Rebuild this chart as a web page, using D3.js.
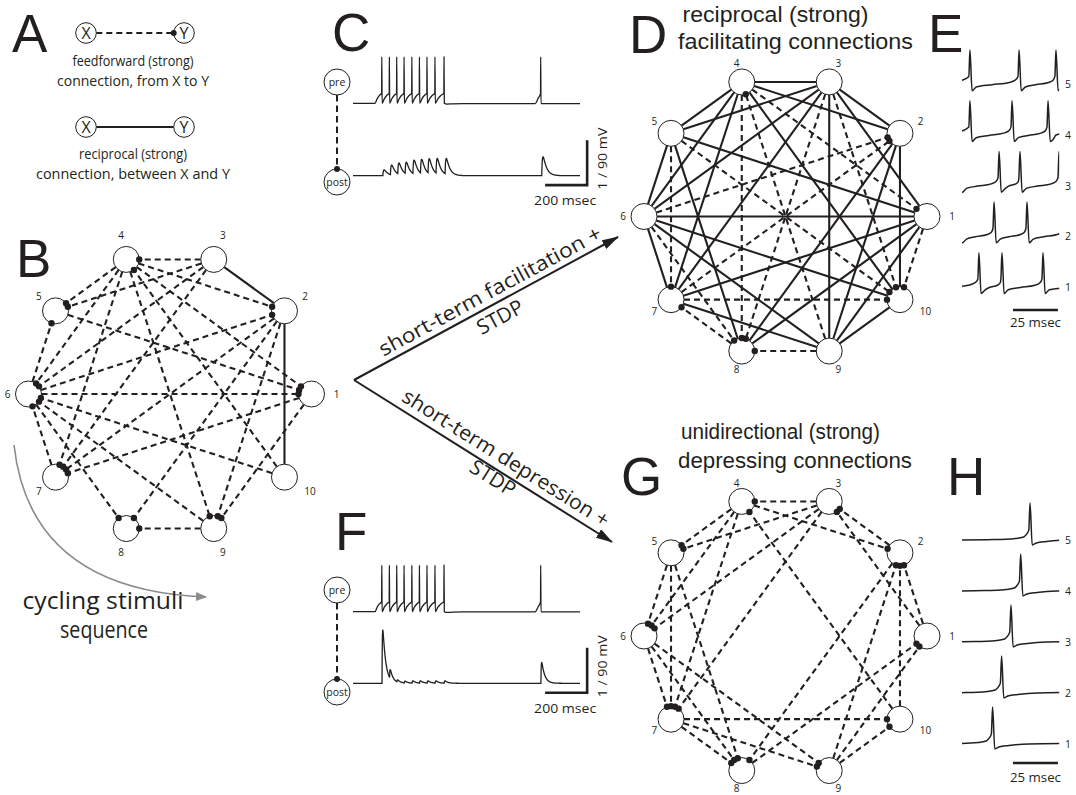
<!DOCTYPE html>
<html><head><meta charset="utf-8">
<script src="https://cdn.jsdelivr.net/npm/d3@7"></script>
<style>
html,body{margin:0;padding:0;background:#fff;}
svg{display:block;}
text{font-family:"Open Sans","Noto Sans",sans-serif;fill:#231f20;}
text.letter,text.title{font-family:"Liberation Sans",Arial,sans-serif;}
</style></head><body>
<svg id="fig" width="1076" height="795" viewBox="0 0 1076 795"></svg>
<script>
// ================= DATA =================
const nodeIds = [1,2,3,4,5,6,7,8,9,10];
const legendNodes = ["X","Y"];
const legendCaptionFF = ["feedforward (strong)","connection, from X to Y"];
const legendCaptionRec = ["reciprocal (strong)","connection, between X and Y"];

// [source, target]; dashed = feedforward (dot at target), solid = reciprocal
const edgesBSolid  = [[3,2],[2,10]];
const edgesBDashed = [[3,4],[4,2],[3,5],[4,5],[5,1],[6,5],[4,6],[4,7],[4,9],[4,1],[10,4],[3,6],[3,7],
                      [6,2],[2,7],[2,8],[2,9],[1,7],[1,9],[10,6],[9,6],[6,8],[7,6],[9,8],[6,1]];
const edgesDSolid  = [[4,3],[4,5],[5,6],[6,7],[6,1],[3,9],[3,2],[3,1],[3,5],[3,6],[3,7],[4,2],[4,6],[4,7],
                      [4,10],[5,1],[5,8],[6,10],[6,9],[7,1],[7,9],[8,1],[9,1],[9,10],[2,8],[2,9],[2,10]];
const edgesDDashed = [[5,10],[7,2],[9,4],[3,8],[5,7],[7,10],[8,7],[6,8],[9,8],[4,8],[6,2],[3,10],[4,1],[1,10]];
const edgesGSolid  = [];
const edgesGDashed = [[3,4],[10,4],[4,5],[3,5],[4,6],[3,6],[4,7],[3,7],[5,7],[2,3],[1,3],[4,2],[10,2],[9,2],
                      [1,2],[2,8],[8,1],[9,1],[7,10],[9,10],[7,9],[6,9],[6,8],[7,8],[5,8],[5,6],[6,7]];

// pre/post pair recordings (ms, mV)
const traceMs = [0, 1080];
const preSpikeMs = [137,173,208,243,280,316,352,390,433,893];
const burstOnsetMs = 105, lateOnsetMs = 867;
const epspFacilitating = [0.13,0.22,0.25,0.26,0.31,0.32,0.33,0.34,0.35,0.42];
const epspDepressing   = [1.18,0.20,0.05,0.04,0.05,0.05,0.05,0.05,0.05,0.46];
const scaleBarMs = 200, scaleBarPostMv = 1, scaleBarPreMv = 90;

// firing of neurons 5..1 (ms)
const rowLabels = [5,4,3,2,1];
const firingMs = [0, 54];
const spikesE = [[4.4,31.7,52.2],[4.4,27.8,47.8],[20.6,32.2,53.9],[17.8,36.1],[9.4,22.2,45]];
const spikesEPrev = [-50,-50,-1,-1,-20];
const spikesENext = [80,57,80,57,75];
const spikesH = [37.8,32.6,27.2,22,17];
const scaleBarFiringMs = 25;

// ================= DRAWING =================
const ink = "#231f20";
const svg = d3.select("#fig");
const defs = svg.append("defs");
function marker(id,color,len,wid){
  defs.append("marker").attr("id",id).attr("viewBox",`0 0 ${len} ${wid}`)
    .attr("refX",len-1).attr("refY",wid/2).attr("markerWidth",len).attr("markerHeight",wid)
    .attr("markerUnits","userSpaceOnUse").attr("orient","auto")
    .append("path").attr("d",`M0,0L${len},${wid/2}L0,${wid}Z`).attr("fill",color);
}
marker("arrK",ink,17,10);
marker("arrG","#8c8c8c",11,9);

function txt(str,x,y,size,o={}){
  const t=svg.append("text").attr("x",x).attr("y",y).attr("font-size",size)
    .attr("text-anchor",o.anchor||"middle").text(str);
  if(o.len) t.attr("textLength",o.len).attr("lengthAdjust","spacingAndGlyphs");
  if(o.rot!==undefined) t.attr("transform",`rotate(${o.rot},${x},${y})`);
  if(o.dy) t.attr("dy",o.dy);
  if(o.cls) t.attr("class",o.cls);
  return t;
}

// panel letters
const letters=[["A",12,52],["B",16,277],["C",332,51],["D",629,53],["E",928,52],["F",335,550],["G",621,495],["H",947,495]];
letters.forEach(([l,x,y])=>txt(l,x,y,53,{anchor:"start",cls:"letter"}));

// ---------- A : legend ----------
const legX = d3.scaleLinear().domain([0,1]).range([86,184]);
[{y:33,dashed:true,cap:legendCaptionFF,cy:[66,86],len:[121,152]},
 {y:127,dashed:false,cap:legendCaptionRec,cy:[159,179],len:[108,194]}].forEach(row=>{
  const r=10.3;
  svg.append("line").attr("x1",legX(0)+r).attr("x2",legX(1)-r).attr("y1",row.y).attr("y2",row.y)
    .attr("stroke",ink).attr("stroke-width",2).attr("stroke-dasharray",row.dashed?"6,4":null);
  legendNodes.forEach((n,i)=>{
    svg.append("circle").attr("cx",legX(i)).attr("cy",row.y).attr("r",r).attr("fill","#fff").attr("stroke",ink).attr("stroke-width",1);
    txt(n,legX(i),row.y,16,{dy:"0.36em"});
  });
  if(row.dashed) svg.append("circle").attr("cx",legX(1)-r).attr("cy",row.y).attr("r",3).attr("fill",ink);
  row.cap.forEach((c,i)=>txt(c,133,row.cy[i],15,{len:row.len[i]}));
});

// ---------- networks ----------
const NR=13, RAD=141.5;
const angle = d3.scaleLinear().domain([1,11]).range([0,2*Math.PI]);
function drawNet(cx,cy,solid,dashed,labRy){
  const px = d3.scaleLinear().domain([-1,1]).range([cx-RAD,cx+RAD]);
  const py = d3.scaleLinear().domain([-1,1]).range([cy+RAD,cy-RAD]);
  const pos={};
  nodeIds.forEach(k=>{const a=angle(k);pos[k]={x:px(Math.cos(a)),y:py(Math.sin(a)),a};});
  const seg=([s,t])=>{const p=pos[s],q=pos[t];const dx=q.x-p.x,dy=q.y-p.y,L=Math.hypot(dx,dy);
    const ux=dx/L,uy=dy/L;return{x1:p.x+ux*NR,y1:p.y+uy*NR,x2:q.x-ux*NR,y2:q.y-uy*NR};};
  const g=svg.append("g");
  g.selectAll("line.s").data(solid.map(seg)).join("line").attr("class","s")
    .attr("x1",d=>d.x1).attr("y1",d=>d.y1).attr("x2",d=>d.x2).attr("y2",d=>d.y2)
    .attr("stroke",ink).attr("stroke-width",2.1);
  g.selectAll("line.d").data(dashed.map(seg)).join("line").attr("class","d")
    .attr("x1",d=>d.x1).attr("y1",d=>d.y1).attr("x2",d=>d.x2).attr("y2",d=>d.y2)
    .attr("stroke",ink).attr("stroke-width",2.1).attr("stroke-dasharray","6,4");
  g.selectAll("circle.n").data(nodeIds).join("circle").attr("class","n")
    .attr("cx",k=>pos[k].x).attr("cy",k=>pos[k].y).attr("r",NR)
    .attr("fill","#fff").attr("stroke",ink).attr("stroke-width",1);
  g.selectAll("circle.dot").data(dashed.map(seg)).join("circle").attr("class","dot")
    .attr("cx",d=>d.x2).attr("cy",d=>d.y2).attr("r",3.2).attr("fill",ink);
  g.selectAll("text").data(nodeIds).join("text")
    .attr("x",k=>pos[k].x+23*Math.cos(pos[k].a)+2+(k===10?5:0))
    .attr("y",k=>pos[k].y-labRy*Math.sin(pos[k].a)).attr("dy","0.35em")
    .attr("text-anchor","middle").attr("font-size",10).text(k=>k);
}
drawNet(170,394,edgesBSolid,edgesBDashed,25);
drawNet(785.5,216.5,edgesDSolid,edgesDDashed,19.5);
drawNet(785.5,636,edgesGSolid,edgesGDashed,18.5);

// network titles
txt("reciprocal (strong)",775.5,22,22,{len:186,cls:"title"});
txt("facilitating connections",795.5,49,22,{len:235,cls:"title"});
txt("unidirectional (strong)",780.5,439,22,{len:199,cls:"title"});
txt("depressing connections",795,468,22,{len:234,cls:"title"});

// cycling stimuli arrow
const ap=d3.path();
ap.moveTo(14,445);
ap.quadraticCurveTo(30,590,206,597);
svg.append("path").attr("d",ap.toString()).attr("fill","none").attr("stroke","#8c8c8c")
  .attr("stroke-width",1.6).attr("marker-end","url(#arrG)");
txt("cycling stimuli",103,609,23,{len:161});
txt("sequence",104,638,23,{len:88});

// transition arrows
[[618,237],[612,542]].forEach(([x,y])=>{
  svg.append("line").attr("x1",354).attr("y1",380).attr("x2",x).attr("y2",y)
    .attr("stroke",ink).attr("stroke-width",2).attr("marker-end","url(#arrK)");
});
txt("short-term facilitation +",490,291,20.5,{len:250,rot:-28.4,dy:"0.35em"});
txt("STDP",500,317,20.5,{rot:-28.4,dy:"0.35em"});
txt("short-term depression +",506,458,20.5,{len:240,rot:32.1,dy:"0.35em"});
txt("STDP",493,478,20.5,{rot:32.1,dy:"0.35em"});

// ---------- C & F : pre/post traces ----------
const xTr = d3.scaleLinear().domain(traceMs).range([353,580]);
function prePoints(){
  const pts=[[traceMs[0],-65],[burstOnsetMs,-65]];
  const burst=preSpikeMs.slice(0,-1), late=preSpikeMs[preSpikeMs.length-1];
  let start=burstOnsetMs;
  burst.forEach(ts=>{
    const g=ts-start;
    pts.push([start+0.3*g,-56],[start+0.6*g,-50],[start+0.88*g,-46.5],[ts-0.8,-45],[ts,28],[ts+1.5,-65]);
    start=ts+1.5;
  });
  const gl=late-lateOnsetMs;
  pts.push([start+12,-66.5],[start+40,-66],[start+90,-65.5],[lateOnsetMs,-65.5],
    [lateOnsetMs+0.5*gl,-56],[lateOnsetMs+0.85*gl,-49],[late-0.8,-45],[late,28],[late+1.5,-65.5],[traceMs[1],-65.5]);
  return pts;
}
function kernel(tr,td){
  const f=t=>t<=0?0:Math.exp(-t/td)-Math.exp(-t/tr);
  const tp=Math.log(td/tr)*tr*td/(td-tr), n=f(tp);
  return t=>f(t)/n;
}
function postPoints(amps,delay,tr,td){
  const k=kernel(tr,td);
  return d3.range(traceMs[0],traceMs[1]+0.25,0.5).map(t=>[t,d3.sum(preSpikeMs,(ts,i)=>amps[i]*k(t-ts-delay))]);
}
function drawPair(preBase,postBase,preCy,postCy,amps,delay,tr,td){
  const yPre=d3.scaleLinear().domain([-65,-65+scaleBarPreMv]).range([preBase,preBase-45]);
  const yPost=d3.scaleLinear().domain([0,scaleBarPostMv]).range([postBase,postBase-45]);
  const lPre=d3.line().x(d=>xTr(d[0])).y(d=>yPre(d[1])).curve(d3.curveMonotoneX);
  const lPost=d3.line().x(d=>xTr(d[0])).y(d=>yPost(d[1]));
  svg.append("path").attr("d",lPre(prePoints())).attr("fill","none").attr("stroke",ink).attr("stroke-width",1.3);
  svg.append("path").attr("d",lPost(postPoints(amps,delay,tr,td))).attr("fill","none").attr("stroke",ink).attr("stroke-width",1.3);
  const cx=337,r=13;
  svg.append("line").attr("x1",cx).attr("x2",cx).attr("y1",preCy+r).attr("y2",postCy-r)
    .attr("stroke",ink).attr("stroke-width",2).attr("stroke-dasharray","6.5,4");
  [["pre",preCy],["post",postCy]].forEach(([s,cy])=>{
    svg.append("circle").attr("cx",cx).attr("cy",cy).attr("r",r).attr("fill","#fff").attr("stroke",ink).attr("stroke-width",1);
    txt(s,cx,cy,10.5,{dy:"0.35em"});
  });
  svg.append("circle").attr("cx",cx).attr("cy",postCy-r).attr("r",3).attr("fill",ink);
  const tEnd=1114, vLow=-0.21;
  svg.append("path").attr("d",`M${xTr(tEnd-scaleBarMs)},${yPost(vLow)}H${xTr(tEnd)}V${yPost(vLow+scaleBarPostMv)}`)
    .attr("fill","none").attr("stroke",ink).attr("stroke-width",2.6);
  txt(`${scaleBarMs} msec`,xTr(tEnd-scaleBarMs/2)-1,yPost(vLow)+20,13.5,{len:62});
  txt(`${scaleBarPostMv} / ${scaleBarPreMv} mV`,602,yPost(vLow+scaleBarPostMv/2)-4,13.5,{rot:-90,dy:"0.35em",len:62});
}
drawPair(103.3,175.7,82,182,epspFacilitating,5,3,16);
drawPair(611.7,683.3,590,692,epspDepressing,1,1.5,14);

// ---------- E & H : firing sequences ----------
const xF = d3.scaleLinear().domain(firingMs).range([962,962+54*1.8]);
defs.append("clipPath").attr("id","clipF").append("rect")
  .attr("x",xF(firingMs[0])).attr("y",0).attr("width",xF(firingMs[1])-xF(firingMs[0])).attr("height",795);
function firingPoints(spikes,prev,next){
  const all=[prev,...spikes,next], pts=[[prev-1,-78]];
  for(let i=0;i<all.length-1;i++){
    const ts=all[i],tn=all[i+1],g=tn-ts;
    if(i>0) pts.push([ts,30]);
    pts.push([ts+1.2,-78],[ts+3.5,-68],[ts+0.45*g,-62],[ts+0.8*g,-56],[ts+0.92*g,-50],[tn-0.6,-40]);
  }
  return pts;
}
const hTemplate=[[-60,-69],[-20,-67],[-8,-64],[-3.5,-60],[-1.8,-52],[-0.7,-42],[0,30],[1.2,-81],[3.5,-76],[9,-72],[20,-68],[45,-66.5]];
function drawRow(top,pts){
  const y=d3.scaleLinear().domain([-80,30]).range([top+41.5,top]);
  const l=d3.line().x(d=>xF(d[0])).y(d=>y(d[1])).curve(d3.curveMonotoneX);
  svg.append("path").attr("d",l(pts)).attr("fill","none").attr("stroke",ink)
    .attr("stroke-width",1.5).attr("clip-path","url(#clipF)");
  return y;
}
rowLabels.forEach((lab,i)=>{
  const yE=drawRow(50+i*50.7,firingPoints(spikesE[i],spikesEPrev[i],spikesENext[i]));
  txt(lab,1065,yE(-62),10.5,{anchor:"start",dy:"0.35em"});
  const yH=drawRow(503+i*51,hTemplate.map(([d,v])=>[spikesH[i]+d,v]));
  txt(lab,1065,yH(-68),10.5,{anchor:"start",dy:"0.35em"});
});
[[310,327],[763,782]].forEach(([yb,yt])=>{
  svg.append("line").attr("x1",xF(28.3)).attr("x2",xF(28.3+scaleBarFiringMs)).attr("y1",yb).attr("y2",yb)
    .attr("stroke",ink).attr("stroke-width",2.6);
  txt(`${scaleBarFiringMs} msec`,xF(28.3+scaleBarFiringMs/2),yt,13.5,{len:51});
});
</script></body></html>
